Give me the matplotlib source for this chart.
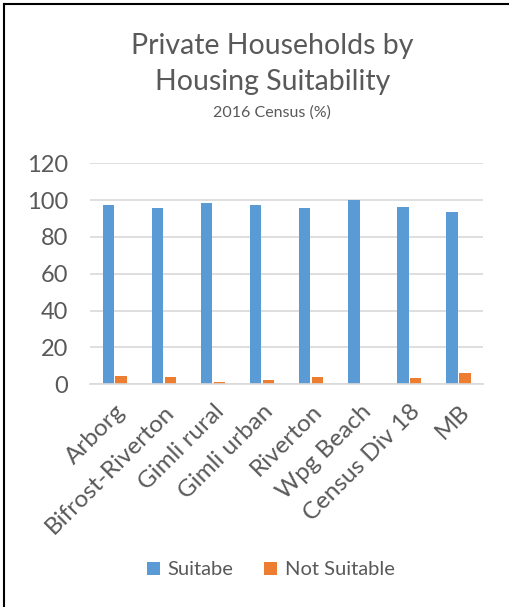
import matplotlib.pyplot as plt
from matplotlib.lines import Line2D
import numpy as np

plt.rcParams['font.family'] = ['Lato', 'DejaVu Sans']

places = ['Arborg', 'Bifrost-Riverton', 'Gimli rural', 'Gimli urban',
          'Riverton', 'Wpg Beach', 'Census Div 18', 'MB']
suitable = [97.1, 95.5, 98.4, 97.6, 95.7, 100.0, 96.2, 93.3]
not_suitable = [4.5, 3.8, 1.1, 2.5, 3.8, 0.0, 3.3, 6.3]

blue = '#5b9bd5'
orange = '#ed7d31'
grey = '#595959'

fig = plt.figure(figsize=(5.09, 6.07), dpi=100)
ax = fig.add_axes([0.177, 0.367, 0.772, 0.364])

x = np.arange(len(places))
w = 0.23
ax.bar(x - 0.13, suitable, w, color=blue, label='Suitabe')
ax.bar(x + 0.13, not_suitable, w, color=orange, label='Not Suitable')

ax.set_xlim(-0.5, len(places) - 0.5)
ax.set_ylim(0, 120)
ax.set_yticks(range(0, 121, 20))
ax.yaxis.grid(True, color='#d9d9d9', lw=1.2)
ax.set_axisbelow(True)
for s in ['top', 'right', 'left']:
    ax.spines[s].set_visible(False)
ax.spines['bottom'].set_color('#d9d9d9')
ax.spines['bottom'].set_linewidth(1.2)
ax.tick_params(length=0, colors=grey)
ax.tick_params(axis='y', labelsize=17, pad=16)
ax.set_xticks(x)
ax.set_xticklabels(places, rotation=45, ha='right', rotation_mode='anchor',
                   fontsize=17.5)
ax.tick_params(axis='x', pad=12)

# chart was cropped on the right, so its centre sits right of the image centre
cx = 0.535
fig.text(cx, 0.925, 'Private Households by', ha='center', va='center',
         fontsize=20.5, color=grey)
fig.text(cx, 0.865, 'Housing Suitability', ha='center', va='center',
         fontsize=20.5, color=grey)
fig.text(cx, 0.814, '2016 Census (%)', ha='center', va='center',
         fontsize=11.5, color=grey)

fig.legend(loc='center', bbox_to_anchor=(0.532, 0.061), ncol=2, frameon=False,
           fontsize=14.5, handlelength=0.65, handleheight=0.65, handletextpad=0.4,
           columnspacing=1.5, labelcolor=grey)

# frame visible on left and top only (cropped chart border)
fig.add_artist(Line2D([0.008, 0.008], [0, 0.993], color='black', lw=1.5))
fig.add_artist(Line2D([0.008, 1.0], [0.993, 0.993], color='black', lw=1.5))

plt.savefig('out.png', dpi=100)
